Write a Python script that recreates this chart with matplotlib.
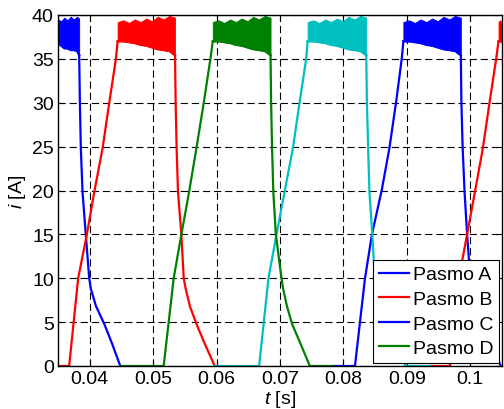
import numpy as np
import matplotlib
matplotlib.use("Agg")
import matplotlib.pyplot as plt
from matplotlib.lines import Line2D

plt.rcParams['font.family'] = ['Liberation Sans', 'DejaVu Sans']
plt.rcParams['mathtext.fontset'] = 'custom'
plt.rcParams['mathtext.it'] = 'Liberation Sans:italic'
plt.rcParams['mathtext.rm'] = 'Liberation Sans'

# ---------------- data ----------------
legend_labels = ["Pasmo A", "Pasmo B", "Pasmo C", "Pasmo D"]
legend_colors = ["#0000ff", "#ff0000", "#0000ff", "#008000"]

col_A = "#0000ff"
col_B = "#ff0000"
col_C = "#00bfbf"
col_D = "#008000"

# chopping band envelope (lower / upper current, A) across one conduction band
band_lower = [37.0, 37.0, 36.9, 36.8, 36.6, 36.5, 36.3, 36.1, 36.0, 35.9, 35.4]
band_upper = [39.2, 39.4, 39.1, 39.5, 39.2, 39.6, 39.3, 39.8, 39.5, 39.9, 39.7]

# Pasmo A (blue)
A1_band_t = [0.0350, 0.0355, 0.0360, 0.0365, 0.0370, 0.0375, 0.0380, 0.03834]
A1_band_lo = [36.8, 36.5, 36.2, 36.2, 36.0, 36.0, 35.9, 35.4]
A1_band_hi = [39.5, 39.3, 39.7, 39.4, 39.8, 39.5, 39.8, 39.6]
A1_fall_t = [0.03834, 0.03845, 0.0386, 0.03887, 0.03939, 0.03992, 0.04018, 0.0410, 0.04229, 0.0435, 0.04482]
A1_fall_i = [35.4, 30.0, 24.8, 19.8, 14.9, 10.0, 8.8, 6.8, 4.8, 2.6, 0.0]
A2_rise_t = [0.0784, 0.08182, 0.0834, 0.0845, 0.08603, 0.08724, 0.08829, 0.08919, 0.08945]
A2_rise_i = [0.0, 0.0, 10.0, 15.0, 20.0, 24.8, 30.0, 35.0, 37.0]
A2_band = (0.08945, 0.09851)
A2_fall_t = [0.09851, 0.0986, 0.0988, 0.0991, 0.0995, 0.1000, 0.1003, 0.1011, 0.1022, 0.1034, 0.1048]
A2_fall_i = [35.4, 30.0, 24.8, 19.8, 15.0, 10.0, 8.8, 6.8, 4.8, 2.6, 0.0]

# Pasmo B (red)
B1_rise_t = [0.0350, 0.03676, 0.03818, 0.03955, 0.04071, 0.04203, 0.04308, 0.04413, 0.04440]
B1_rise_i = [0.0, 0.0, 10.0, 15.0, 19.8, 24.8, 30.0, 35.0, 37.0]
B1_band = (0.04440, 0.05345)
B1_fall_t = [0.05345, 0.05355, 0.0537, 0.05392, 0.05445, 0.05482, 0.05513, 0.0558, 0.05682, 0.0581, 0.05971]
B1_fall_i = [35.4, 30.0, 24.8, 19.8, 15.0, 10.0, 8.8, 6.8, 4.8, 2.6, 0.0]
B2_rise_t = [0.0937, 0.0968, 0.0982, 0.0995, 0.10077, 0.10198, 0.10303, 0.10408, 0.10445]
B2_rise_i = [0.0, 0.0, 10.0, 15.0, 20.0, 24.8, 30.0, 35.0, 37.0]
B2_band_t = [0.10445, 0.1047, 0.1050, 0.1053]
B2_band_lo = [37.0, 37.0, 36.9, 36.9]
B2_band_hi = [39.2, 39.4, 39.1, 39.4]

# Pasmo C (cyan)
C_rise_t = [0.05971, 0.06671, 0.06818, 0.06945, 0.07071, 0.07203, 0.07308, 0.07413, 0.07435]
C_rise_i = [0.0, 0.0, 10.0, 15.0, 19.8, 24.8, 30.0, 35.0, 37.0]
C_band = (0.07435, 0.08360)
C_fall_t = [0.0836, 0.0837, 0.0839, 0.0841, 0.08455, 0.08495, 0.0853, 0.0860, 0.0870, 0.0883, 0.0898, 0.0937]
C_fall_i = [35.4, 30.0, 24.8, 19.8, 15.0, 10.0, 8.8, 6.8, 4.8, 2.6, 0.0, 0.0]

# Pasmo D (green)
D_rise_t = [0.04482, 0.05166, 0.05324, 0.05445, 0.05566, 0.05682, 0.05798, 0.05903, 0.05940]
D_rise_i = [0.0, 0.0, 10.0, 15.0, 19.8, 24.8, 30.0, 35.0, 37.0]
D_band = (0.05940, 0.06851)
D_fall_t = [0.06851, 0.0686, 0.06875, 0.06895, 0.06934, 0.07024, 0.0705, 0.0711, 0.0719, 0.0732, 0.0747, 0.0784]
D_fall_i = [35.4, 30.0, 24.8, 19.8, 15.0, 10.0, 8.8, 6.8, 4.8, 2.6, 0.0, 0.0]

x_ticks = [0.04, 0.05, 0.06, 0.07, 0.08, 0.09, 0.10]
x_ticklabels = ["0.04", "0.05", "0.06", "0.07", "0.08", "0.09", "0.1"]
y_ticks = [0, 5, 10, 15, 20, 25, 30, 35, 40]

# ---------------- figure ----------------
fig = plt.figure(figsize=(5.04, 4.10), dpi=100)
ax = fig.add_axes([58 / 504, 43 / 410, 444 / 504, 351 / 410])

LW = 1.6
FS = 14


def draw_band(t, lo, hi, color):
    ax.fill_between(t, lo, hi, color=color, lw=0.6, edgecolor=color, zorder=3)
    ax.plot(t, lo, color=color, lw=LW, zorder=3)


def band_times(span):
    return np.linspace(span[0], span[1], len(band_lower))


# Pasmo A
draw_band(A1_band_t, A1_band_lo, A1_band_hi, col_A)
ax.plot(A1_fall_t, A1_fall_i, color=col_A, lw=LW, zorder=3)
ax.plot(A2_rise_t, A2_rise_i, color=col_A, lw=LW, zorder=3)
draw_band(band_times(A2_band), band_lower, band_upper, col_A)
ax.plot(A2_fall_t, A2_fall_i, color=col_A, lw=LW, zorder=3)

# Pasmo B
ax.plot(B1_rise_t, B1_rise_i, color=col_B, lw=LW, zorder=3)
draw_band(band_times(B1_band), band_lower, band_upper, col_B)
ax.plot(B1_fall_t, B1_fall_i, color=col_B, lw=LW, zorder=3)
ax.plot(B2_rise_t, B2_rise_i, color=col_B, lw=LW, zorder=3)
draw_band(B2_band_t, B2_band_lo, B2_band_hi, col_B)

# Pasmo C
ax.plot(C_rise_t, C_rise_i, color=col_C, lw=LW, zorder=3)
draw_band(band_times(C_band), band_lower, band_upper, col_C)
ax.plot(C_fall_t, C_fall_i, color=col_C, lw=LW, zorder=3)

# Pasmo D
ax.plot(D_rise_t, D_rise_i, color=col_D, lw=LW, zorder=3)
draw_band(band_times(D_band), band_lower, band_upper, col_D)
ax.plot(D_fall_t, D_fall_i, color=col_D, lw=LW, zorder=3)

ax.set_xlim(0.035, 0.105)
ax.set_ylim(0, 40)
ax.set_xticks(x_ticks)
ax.set_xticklabels(x_ticklabels)
ax.set_yticks(y_ticks)

ax.grid(True, color="black", lw=0.8, linestyle=(0, (6.5, 3.5)))
ax.set_axisbelow(True)
ax.tick_params(direction="in", top=True, right=True, length=4, width=0.8,
               labelsize=FS, colors="black")
ax.tick_params(axis="x", pad=3)
ax.tick_params(axis="y", pad=3)
for s in ax.spines.values():
    s.set_linewidth(1.0)
    s.set_zorder(5)

ax.set_xlabel("$t$ [s]", fontsize=FS, labelpad=0.5)
ax.set_ylabel("$i$ [A]", fontsize=FS, labelpad=3)

handles = [Line2D([0], [0], color=c, lw=LW) for c in legend_colors]
leg = ax.legend(handles, legend_labels, loc="lower right", bbox_to_anchor=(1.0, 0.0),
                borderaxespad=0.15, fontsize=FS, frameon=True, fancybox=False,
                edgecolor="black", framealpha=1, handlelength=1.55, handletextpad=0.2,
                labelspacing=0.36, borderpad=0.3)
leg.get_frame().set_linewidth(0.8)
leg.set_zorder(10)

fig.savefig("out.png", dpi=100)
